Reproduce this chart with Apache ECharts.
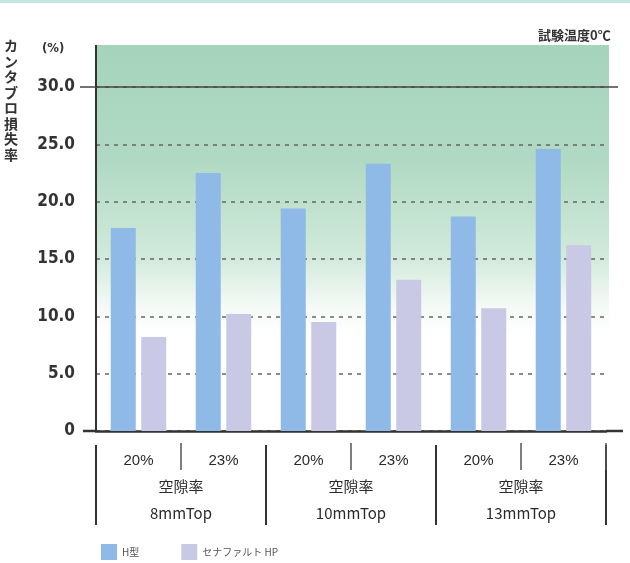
<!DOCTYPE html>
<html><head><meta charset="utf-8">
<script src="https://cdn.jsdelivr.net/npm/echarts@6/dist/echarts.min.js"></script>
<style>html,body{margin:0;padding:0;background:#fff}#c{width:630px;height:563px}</style>
</head><body><div id="c"></div>
<script>
const categories = ['20%', '23%', '20%', '23%', '20%', '23%'];
const groups = ['空隙率\n8mmTop', '空隙率\n10mmTop', '空隙率\n13mmTop'];
const hType = [17.7, 22.5, 19.4, 23.3, 18.7, 24.6];
const senafalt = [8.2, 10.2, 9.5, 13.2, 10.7, 16.2];
const seriesNames = ['H型', 'セナファルト HP'];
const yTicks = [0, 5, 10, 15, 20, 25, 30];

const chart = echarts.init(document.getElementById('c'));
const FONT = 'DejaVu Sans Condensed';
chart.setOption({
  animation: false,
  grid: { left: 96, right: 24, top: 87, bottom: 132 },
  legend: {
    left: 96, top: 539, itemWidth: 16, itemHeight: 16, itemGap: 42,
    icon: 'rect',
    textStyle: { fontSize: 10, color: '#555', fontFamily: 'Noto Sans CJK JP' },
    data: seriesNames
  },
  xAxis: [
    { type: 'category', data: categories, position: 'bottom',
      axisLine: { lineStyle: { color: '#333', width: 2.5 } },
      axisTick: { show: false },
      axisLabel: { margin: 22, fontSize: 15, color: '#2a2a2a', fontFamily: 'Liberation Sans' } },
    { type: 'category', data: groups, position: 'bottom', offset: 14,
      axisLine: { show: false },
      axisTick: { show: true, length: 80, lineStyle: { color: '#333', width: 2 } },
      axisLabel: { margin: 28, fontSize: 15, lineHeight: 27, color: '#2a2a2a', fontFamily: 'Noto Sans CJK JP' } },
    { type: 'category', data: categories, position: 'bottom', offset: 12,
      axisLine: { show: false },
      axisTick: { show: true, length: 27, interval: (i) => i % 2 === 1, lineStyle: { color: '#555', width: 1.5 } },
      axisLabel: { show: false } }
  ],
  yAxis: {
    type: 'value', min: 0, max: 30, interval: 5,
    axisLine: { show: true, lineStyle: { color: '#333', width: 2 } },
    axisTick: { show: false },
    splitLine: { lineStyle: { color: '#666', type: [4, 5], width: 1.5 } },
    axisLabel: { margin: 21, fontSize: 17, fontWeight: 'bold', color: '#333', fontFamily: FONT,
      formatter: v => v === 0 ? '0' : v.toFixed(1) }
  },
  series: [
    { name: seriesNames[0], type: 'bar', data: hType, barWidth: 25, barGap: '22%',
      itemStyle: { color: '#8fb9e6' }, z: 3,
      markLine: { silent: true, symbol: 'none', label: { show: false },
        lineStyle: { color: '#444', type: 'solid', width: 1.5 },
        data: [{ yAxis: 30 }] } },
    { name: seriesNames[1], type: 'bar', data: senafalt, barWidth: 25,
      itemStyle: { color: '#c9c9e5' }, z: 3 }
  ]
});

const p0 = chart.convertToPixel({ gridIndex: 0 }, [0, 0]);
const pTop = chart.convertToPixel({ yAxisIndex: 0 }, 30);
const gridL = 96, gridR = 606, yZero = p0[1];
const bgTop = 45;
chart.setOption({
  graphic: [
    { type: 'rect', z: -1, shape: { x: 0, y: 0, width: 630, height: 3 }, style: { fill: '#c4e6de' } },
    { type: 'rect', z: -1, shape: { x: gridL, y: bgTop, width: gridR - gridL + 3, height: yZero - bgTop },
      style: { fill: new echarts.graphic.LinearGradient(0, 0, 0, 1, [
        { offset: 0, color: '#a6d4bb' },
        { offset: 0.3, color: '#b0d9c3' },
        { offset: 0.55, color: '#d2eadb' },
        { offset: 0.68, color: '#f5faf6' },
        { offset: 0.75, color: '#ffffff' },
        { offset: 1, color: '#ffffff' }] ) } },
    { type: 'line', z: 5, shape: { x1: gridL, y1: bgTop, x2: gridL, y2: pTop }, style: { stroke: '#333', lineWidth: 2 } },
    { type: 'line', z: 5, shape: { x1: 80, y1: pTop, x2: gridL, y2: pTop }, style: { stroke: '#444', lineWidth: 1.5 } },
    { type: 'line', z: 5, shape: { x1: gridR, y1: pTop, x2: 618, y2: pTop }, style: { stroke: '#444', lineWidth: 1.5 } },
    { type: 'line', z: 5, shape: { x1: 83, y1: yZero, x2: gridL, y2: yZero }, style: { stroke: '#333', lineWidth: 2.5 } },
    { type: 'line', z: 5, shape: { x1: gridR, y1: yZero, x2: 623, y2: yZero }, style: { stroke: '#333', lineWidth: 2.5 } },
    { type: 'text', z: 5, left: 538, top: 29, style: { text: '試験温度0℃', fontSize: 13, fontWeight: 'bold', fill: '#333', fontFamily: 'Noto Sans CJK JP' } },
    { type: 'text', z: 5, left: 42, top: 42, style: { text: '(%)', fontSize: 13, fontWeight: 'bold', fill: '#333', fontFamily: FONT } },
    { type: 'text', z: 5, left: 4, top: 38, style: { text: 'カ\nン\nタ\nブ\nロ\n損\n失\n率', fontSize: 14, lineHeight: 15.5, fontWeight: 'bold', fill: '#333', fontFamily: 'Noto Sans CJK JP' } }
  ]
});
</script></body></html>
